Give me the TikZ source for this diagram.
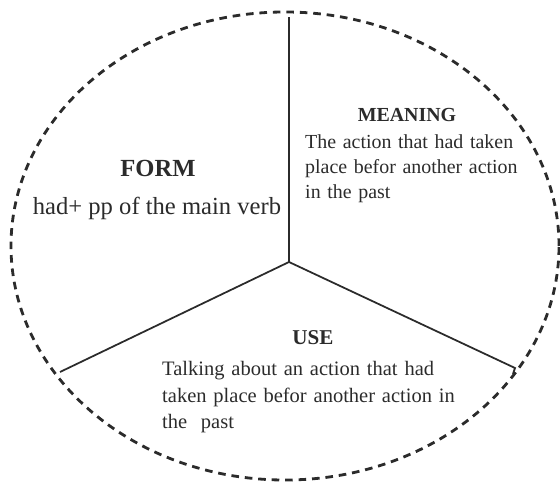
\documentclass[tikz,border=0pt]{standalone}
\usepackage{fontspec}
\setmainfont{Liberation Serif}
\usepackage{tikz}
\definecolor{inkgray}{HTML}{2B2B2B}
\tikzset{
	spoke/.style={draw=inkgray, line width=1.5pt},
	rim/.style={draw=inkgray, line width=2.4pt, dash pattern=on 6.5pt off 5pt},
	title/.style={font=\bfseries, text=inkgray, inner sep=0pt},
	body/.style={text=inkgray, inner sep=0pt}
}
\begin{document}
\begin{tikzpicture}[x=0.03cm, y=-0.03cm]
	
	\useasboundingbox (0,0) rectangle (560,483);
	\draw[rim] (285,246) ellipse [x radius=8.22cm, y radius=7.02cm];
	
	\coordinate (hub) at (289,262);
	\coordinate (top) at (289,17);
	\coordinate (left) at (60,372);
	\coordinate (right) at (515,368);
	\draw[spoke] (hub) -- (top);
	\draw[spoke] (hub) -- (left);
	\draw[spoke] (hub) -- (right) -- (513,374);
	
	\node[title, font=\fontsize{21}{24}\selectfont\bfseries] (form) at (158,168) {FORM};
	\node[body, font=\fontsize{21}{24}\selectfont] (formtext) at (157,208) {had+ pp of the main verb};
	
	\node[title, font=\fontsize{17}{20}\selectfont\bfseries] (meaning) at (407,115) {MEANING};
	\node[body, font=\fontsize{17}{21.3}\selectfont, anchor=north west, text width=6.5cm, align=left] (meaningtext) at (305,134.5)
		{The action that had taken\\ place befor another action\\ in the past};
	
	\node[title, font=\fontsize{18}{21}\selectfont\bfseries] (use) at (313,338) {USE};
	\node[body, font=\fontsize{17.5}{22.5}\selectfont, anchor=north west, text width=9cm, align=left] (usetext) at (162,361.5)
		{\makebox[9cm][s]{Talking about an action that had}\\
		\makebox[9cm][s]{taken place befor another action in}\\
		the~~past};
	
\end{tikzpicture}
\end{document}
